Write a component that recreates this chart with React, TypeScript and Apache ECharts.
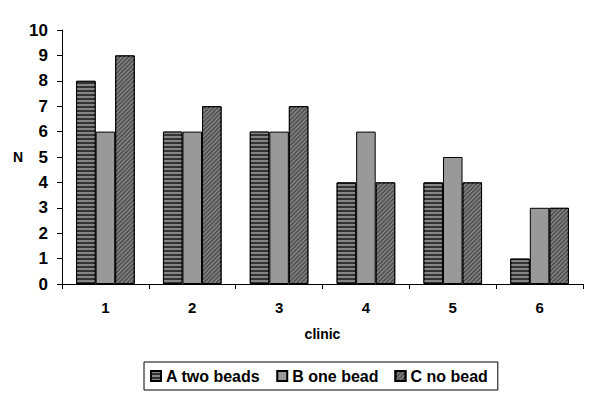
import React, { useEffect, useRef } from "react";
import * as echarts from "echarts";

const categories = ["1", "2", "3", "4", "5", "6"];
const seriesNames = ["A two beads", "B one bead", "C no bead"];
const seriesA = [8, 6, 6, 4, 4, 1];
const seriesB = [6, 6, 6, 6, 5, 3];
const seriesC = [9, 7, 7, 4, 4, 3];
const yTicks = [0, 10];

export default function App() {
  const ref = useRef<HTMLDivElement>(null);
  useEffect(() => {
    if (!ref.current) return;
    const chart = echarts.init(ref.current, null, { renderer: "svg" });
    const font = "Liberation Sans, Arial, sans-serif";
    const common = {
      type: "bar" as const,
      barGap: "0%",
      barCategoryGap: "32.5%",
    };
    chart.setOption({
      animation: false,
      backgroundColor: "#ffffff",
      grid: { left: 62, right: 17, top: 30, bottom: 117 },
      xAxis: {
        type: "category",
        data: categories,
        name: "clinic",
        nameLocation: "middle",
        nameGap: 43,
        nameTextStyle: { fontFamily: font, fontWeight: "bold", fontSize: 14, color: "#000" },
        axisLine: { lineStyle: { color: "#000", width: 1 } },
        axisTick: { show: true, length: 5, lineStyle: { color: "#000" } },
        axisLabel: { fontFamily: font, fontWeight: "bold", fontSize: 15, color: "#000", margin: 16 },
      },
      yAxis: {
        type: "value",
        min: yTicks[0],
        max: yTicks[1],
        interval: 1,
        name: "N",
        nameLocation: "middle",
        nameRotate: 0,
        nameGap: 38,
        nameTextStyle: { fontFamily: font, fontWeight: "bold", fontSize: 14, color: "#000" },
        axisLine: { show: true, lineStyle: { color: "#000", width: 1 } },
        axisTick: { show: true, length: 5, lineStyle: { color: "#000" } },
        axisLabel: { fontFamily: font, fontWeight: "bold", fontSize: 17, color: "#000", margin: 14 },
        splitLine: { show: false },
      },
      legend: {
        left: 144,
        top: 362,
        data: seriesNames,
        icon: "rect",
        itemWidth: 10,
        itemHeight: 10,
        itemGap: 16,
        padding: [6, 10, 6, 6],
        borderColor: "#000",
        borderWidth: 1,
        textStyle: { fontFamily: font, fontWeight: "bold", fontSize: 16, color: "#000" },
      },
      series: [
        {
          ...common,
          name: seriesNames[0],
          data: seriesA,
          itemStyle: {
            color: "#333333",
            borderColor: "#000",
            borderWidth: 1,
            decal: {
              symbol: "rect",
              symbolSize: 1,
              color: "#858585",
              dashArrayX: [1, 0],
              dashArrayY: [1.5, 1.5],
              rotation: 0,
            },
          },
        },
        {
          ...common,
          name: seriesNames[1],
          data: seriesB,
          itemStyle: { color: "#999999", borderColor: "#000", borderWidth: 1 },
        },
        {
          ...common,
          name: seriesNames[2],
          data: seriesC,
          itemStyle: {
            color: "#555555",
            borderColor: "#000",
            borderWidth: 1,
            decal: {
              symbol: "rect",
              symbolSize: 1,
              color: "#8f8f8f",
              dashArrayX: [1, 0],
              dashArrayY: [1, 1.5],
              rotation: -Math.PI / 4,
            },
          },
        },
      ],
    });
    return () => chart.dispose();
  }, []);
  return <div ref={ref} style={{ width: 600, height: 401, position: "absolute", left: 0, top: 0 }} />;
}
